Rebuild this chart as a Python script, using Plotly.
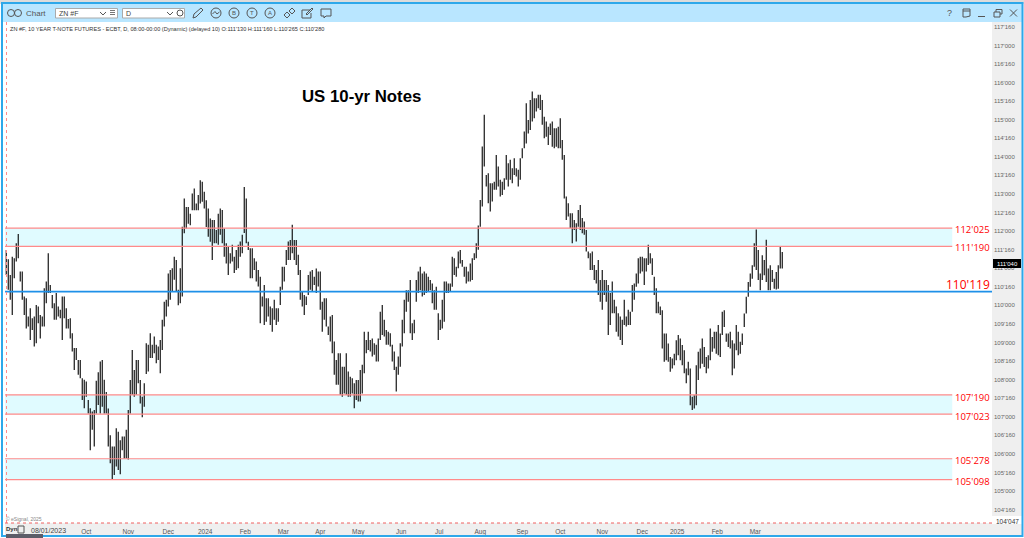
import numpy as np
import plotly.graph_objects as go

W, H = 1024, 538

# daily highs / lows, one bar every 2 px
highs = [
    111.63, 111.49, 111.24, 110.82, 111.31, 111.27, 111.67, 111.92, 110.91, 110.91,
    110.24, 110.19, 109.70, 109.92, 109.65, 109.70, 110.01, 109.97, 109.74, 109.70,
    110.46, 110.64, 111.40, 110.55, 110.28, 110.06, 110.33, 109.97, 109.88, 110.24,
    110.24, 109.92, 109.63, 109.65, 109.25, 108.85, 108.85, 108.53, 108.53, 108.04,
    108.00, 107.95, 107.45, 107.23, 107.14, 107.18, 107.97, 108.20, 108.49, 108.53,
    108.00, 107.67, 107.22, 106.50, 106.20, 106.20, 106.69, 106.60, 106.37, 106.47,
    106.47, 106.65, 107.18, 107.99, 108.80, 108.26, 108.53, 108.53, 107.99, 107.54,
    107.90, 108.98, 108.94, 109.25, 108.94, 109.16, 108.94, 108.89, 109.07, 109.61,
    110.10, 110.15, 110.86, 110.95, 111.00, 111.31, 111.22, 110.42, 111.00, 112.12,
    112.88, 112.65, 112.65, 112.47, 113.01, 113.15, 112.74, 112.97, 113.37, 113.33,
    113.06, 112.83, 112.61, 112.34, 112.30, 112.30, 112.03, 112.47, 112.61, 112.57,
    112.07, 111.67, 111.58, 111.40, 111.63, 111.31, 111.49, 111.63, 111.72, 111.90,
    113.19, 112.88, 111.71, 111.54, 111.54, 111.27, 111.18, 110.95, 110.77, 110.24,
    110.55, 110.19, 110.19, 109.97, 109.92, 110.15, 109.92, 109.92, 110.50, 111.04,
    111.04, 111.49, 111.72, 111.76, 112.17, 111.76, 111.76, 111.36, 110.95, 110.37,
    110.28, 110.24, 110.82, 110.91, 110.95, 110.77, 110.99, 110.91, 110.91, 110.10,
    110.19, 110.19, 109.43, 109.70, 109.74, 109.03, 108.53, 108.71, 108.71, 108.35,
    108.35, 108.71, 108.22, 108.08, 108.04, 107.90, 107.99, 107.99, 108.26, 108.40,
    109.29, 109.07, 109.29, 109.07, 109.11, 108.98, 108.94, 109.11, 109.83, 110.01,
    109.61, 109.34, 109.29, 109.25, 108.94, 108.76, 108.35, 108.62, 108.98, 109.61,
    110.15, 110.41, 110.41, 110.68, 109.52, 109.61, 110.68, 110.91, 111.04, 110.86,
    110.91, 110.86, 110.77, 110.68, 110.59, 110.41, 110.50, 109.79, 109.61, 110.15,
    110.64, 110.64, 110.59, 110.59, 111.31, 111.27, 111.04, 111.45, 111.49, 111.22,
    111.04, 111.04, 110.91, 111.13, 111.27, 111.40, 111.67, 112.15, 112.84, 114.28,
    115.13, 113.51, 113.56, 113.29, 113.29, 113.33, 114.05, 113.74, 113.38, 113.33,
    113.42, 114.05, 113.83, 113.92, 113.69, 113.96, 113.69, 113.65, 113.96, 114.23,
    114.68, 115.44, 114.99, 115.53, 115.76, 115.58, 115.58, 115.67, 115.67, 115.53,
    115.08, 114.95, 114.81, 114.90, 114.95, 114.77, 114.77, 114.81, 115.04, 114.45,
    114.05, 112.93, 112.75, 112.48, 112.48, 112.30, 112.21, 112.57, 112.70, 112.35,
    112.26, 112.03, 111.45, 111.40, 111.45, 111.09, 110.95, 111.22, 110.68, 110.95,
    110.68, 110.68, 110.55, 110.33, 110.64, 110.15, 109.97, 109.79, 109.70, 109.61,
    110.15, 109.70, 109.88, 109.83, 110.55, 110.59, 110.86, 111.27, 111.31, 111.31,
    111.27, 111.27, 111.63, 111.40, 111.27, 110.77, 110.46, 110.10, 109.97, 109.87,
    109.24, 109.24, 108.97, 108.61, 108.57, 108.70, 109.06, 109.20, 109.11, 108.93,
    108.79, 108.30, 108.48, 108.30, 107.54, 107.58, 108.39, 108.75, 108.84, 109.11,
    108.88, 108.61, 108.66, 109.38, 109.15, 109.29, 109.29, 109.47, 109.24, 109.83,
    109.87, 109.24, 109.24, 109.29, 109.06, 108.97, 109.47, 109.29, 109.02, 109.24,
    109.78, 110.23, 110.63, 110.86, 111.08, 111.67, 112.04, 111.49, 110.86, 111.35,
    111.22, 111.77, 110.99, 111.08, 110.95, 110.72, 110.90, 111.08, 111.58, 111.44,
]
lows = [
    111.04, 110.82, 110.42, 110.15, 109.74, 110.73, 111.18, 111.27, 110.64, 110.15,
    109.74, 109.38, 109.43, 109.07, 109.34, 108.89, 108.98, 109.52, 109.11, 109.43,
    109.43, 110.06, 110.33, 110.33, 109.92, 109.61, 109.61, 109.70, 109.65, 109.07,
    109.65, 109.38, 109.38, 109.11, 108.76, 108.26, 108.53, 108.13, 108.04, 107.45,
    107.23, 107.54, 107.09, 106.10, 106.65, 106.20, 107.09, 107.32, 107.09, 107.27,
    107.09, 107.09, 106.20, 105.75, 105.31, 105.43, 105.66, 105.57, 105.45, 106.10,
    105.88, 105.88, 105.85, 107.09, 107.59, 107.54, 107.59, 107.90, 107.36, 106.99,
    107.27, 108.15, 108.22, 108.58, 108.58, 108.71, 108.44, 108.53, 108.17, 108.80,
    109.43, 109.70, 109.97, 110.15, 110.37, 110.69, 110.37, 110.00, 110.06, 110.24,
    111.94, 112.07, 112.20, 112.16, 112.56, 112.56, 112.56, 112.56, 112.74, 112.79,
    112.61, 112.11, 111.85, 111.71, 111.22, 111.67, 111.67, 111.63, 111.90, 111.67,
    111.31, 111.13, 110.82, 111.13, 111.18, 110.87, 110.95, 111.00, 111.31, 111.40,
    111.95, 111.67, 111.49, 110.73, 110.73, 110.95, 110.64, 110.51, 109.52, 109.97,
    109.47, 109.56, 109.70, 109.47, 109.29, 109.61, 109.47, 109.56, 110.01, 110.42,
    110.64, 111.09, 111.22, 111.22, 111.40, 111.22, 111.09, 110.82, 110.15, 109.97,
    109.74, 110.01, 110.28, 110.42, 110.37, 110.55, 110.33, 110.51, 109.88, 109.29,
    109.61, 109.43, 109.20, 109.03, 108.71, 108.13, 107.86, 107.86, 107.59, 107.54,
    107.63, 107.59, 107.54, 107.54, 107.63, 107.23, 107.45, 107.41, 107.41, 107.63,
    108.17, 108.71, 108.80, 108.76, 108.62, 108.67, 108.49, 108.49, 109.07, 109.20,
    109.16, 108.94, 108.94, 108.89, 108.49, 108.26, 107.68, 108.13, 108.35, 108.89,
    109.25, 109.83, 110.10, 109.25, 109.07, 109.25, 110.10, 110.33, 110.41, 110.24,
    110.28, 110.33, 110.37, 110.41, 110.06, 109.88, 109.88, 109.07, 109.34, 109.38,
    109.56, 110.33, 110.33, 110.37, 110.50, 110.82, 110.77, 111.00, 111.13, 111.04,
    110.77, 110.59, 110.64, 110.64, 110.68, 111.22, 111.27, 111.50, 112.12, 112.66,
    113.74, 113.20, 112.75, 112.53, 112.80, 113.11, 113.11, 113.20, 112.93, 112.97,
    113.11, 113.38, 113.20, 113.38, 113.29, 113.51, 113.47, 113.20, 113.38, 113.96,
    114.23, 114.36, 114.63, 114.72, 114.95, 115.04, 115.22, 115.31, 115.26, 114.86,
    114.50, 114.54, 114.32, 114.59, 114.27, 114.23, 114.27, 114.23, 114.23, 113.92,
    112.88, 112.30, 112.39, 112.08, 111.67, 112.03, 111.72, 112.12, 112.03, 111.94,
    111.90, 111.45, 111.27, 110.95, 110.95, 110.68, 110.59, 110.28, 110.10, 109.88,
    110.28, 110.10, 109.20, 109.47, 109.79, 109.79, 109.29, 109.16, 109.07, 108.93,
    109.47, 109.43, 109.47, 109.47, 109.83, 110.15, 110.50, 110.59, 110.86, 110.91,
    110.55, 110.91, 111.09, 111.13, 110.82, 110.28, 109.79, 109.79, 109.74, 108.84,
    108.48, 108.52, 108.48, 108.21, 108.30, 108.39, 108.52, 108.66, 108.52, 108.39,
    108.17, 107.90, 108.12, 107.31, 107.18, 107.22, 107.31, 107.99, 108.30, 108.43,
    108.34, 108.17, 108.30, 108.52, 108.75, 108.84, 108.70, 108.66, 108.61, 109.20,
    109.42, 109.02, 108.88, 108.84, 108.12, 108.30, 108.79, 108.66, 108.70, 108.93,
    109.42, 109.78, 110.23, 110.50, 110.72, 111.04, 110.95, 110.68, 110.41, 110.68,
    110.81, 110.63, 110.41, 110.41, 110.63, 110.45, 110.43, 110.45, 110.99, 110.99,
]

# support / resistance levels and their labels
zone_low = [111.59, 107.07, 105.31]
zone_high = [112.08, 107.59, 105.87]
level_values = [112.08, 111.59, 107.59, 107.07, 105.87, 105.31]
level_labels = ["112'025", "111'190", "107'190", "107'023", "105'278", "105'098"]
mid_level = 110.37
mid_label = "110'119"
last_price = 111.125
last_label = "111'040"

# axis ticks
price_ticks = [117.5 - 0.5 * i for i in range(27)]
price_labels = ["117'160", "117'000", "116'160", "116'000", "115'160", "115'000", "114'160",
                "114'000", "113'160", "113'000", "112'160", "112'000", "111'160", "111'000",
                "110'160", "110'000", "109'160", "109'000", "108'160", "108'000", "107'160",
                "107'000", "106'160", "106'000", "105'160", "105'000", "104'160"]
month_ticks = [41, 62, 82, 100.5, 120.5, 139.5, 158, 177, 198.5, 217.5, 238, 259, 278, 299, 319, 336.5, 356.5, 375.5]
month_labels = ["Oct", "Nov", "Dec", "2024", "Feb", "Mar", "Apr", "May", "Jun", "Jul", "Aug", "Sep",
                "Oct", "Nov", "Dec", "2025", "Feb", "Mar"]

ARIAL = "Liberation Sans"
PANE_L, PANE_R, PANE_T, PANE_B = 5, 992, 22, 523


def px(x):
    return x / W


def py(y):
    return 1 - y / H


def paper_rect(x0, y0, x1, y1, fill=None, line=None, lw=1, layer="below"):
    return dict(type="rect", xref="paper", yref="paper", x0=px(x0), x1=px(x1), y0=py(y0), y1=py(y1),
                fillcolor=fill, line=dict(color=line, width=lw if line else 0), layer=layer)


def paper_line(x0, y0, x1, y1, color, lw=1, dash="solid"):
    return dict(type="line", xref="paper", yref="paper", x0=px(x0), x1=px(x1), y0=py(y0), y1=py(y1),
                line=dict(color=color, width=lw, dash=dash), layer="above")


def paper_circle(cx, cy, r, color="#555555"):
    return dict(type="circle", xref="paper", yref="paper", x0=px(cx - r), x1=px(cx + r), y0=py(cy + r), y1=py(cy - r),
                line=dict(color=color, width=1), layer="above")


def paper_path(points, color="#555555", closed=False):
    d = "M " + " L ".join(f"{px(x):.5f},{py(y):.5f}" for x, y in points)
    if closed:
        d += " Z"
    return dict(type="path", xref="paper", yref="paper", path=d, line=dict(color=color, width=1), layer="above")


def label(x, y, text, size=7, color="#333333", anchor="left", family=ARIAL, bold=False):
    return dict(xref="paper", yref="paper", x=px(x), y=py(y), text=f"<b>{text}</b>" if bold else text,
                showarrow=False, xanchor=anchor, yanchor="middle", borderpad=0,
                font=dict(size=size, color=color, family=family))


# one high-low stroke per bar, broken by None
bar_x, bar_y = [], []
for i, (hi, lo) in enumerate(zip(highs, lows, strict=True)):
    bar_x += [i, i, None]
    bar_y += [lo, hi, None]

fig = go.Figure()
fig.add_trace(go.Scatter(x=bar_x, y=bar_y, mode="lines", line=dict(color="#000000", width=1.1),
                         hoverinfo="skip", showlegend=False))

shapes = []

# window frame, toolbar, axis strips
shapes.append(paper_rect(0, 0, W, 4, fill="#DCDCDC"))
shapes.append(paper_rect(3, 4, 1023, 22, fill="#B9E6FF"))
shapes.append(paper_rect(PANE_R, PANE_T, 1022, 535, fill="#EFEFEF"))
shapes.append(paper_rect(5, PANE_B, 1022, 535, fill="#EFEFEF"))
shapes.append(paper_rect(PANE_R, 516, 1022, 524, fill="#FFFFFF"))
shapes.append(paper_rect(2, 3, 1022.5, 536, line="#2EA8EA", lw=2, layer="above"))
shapes.append(paper_rect(6, 534, 43, 538, fill="#5C5C68", layer="above"))

# zones and levels
for lo, hi in zip(zone_low, zone_high):
    shapes.append(dict(type="rect", xref="x", yref="y", x0=0.4, x1=474, y0=lo, y1=hi,
                       fillcolor="#E0FBFF", line=dict(width=0), layer="below"))
for v in level_values:
    shapes.append(dict(type="line", xref="x", yref="y", x0=0.4, x1=474, y0=v, y1=v,
                       line=dict(color="#FF8A8A", width=1.2), layer="above"))
shapes.append(dict(type="line", xref="x", yref="y", x0=0.4, x1=494, y0=mid_level, y1=mid_level,
                   line=dict(color="#1E90E8", width=1.6), layer="above"))

# cursor lines
shapes.append(paper_line(6.5, PANE_T, 6.5, PANE_B, "#FF8A8A", 1, "dot"))
shapes.append(paper_line(5, 523, 992, 523, "#F06060", 1, "dot"))

# price tag
shapes.append(paper_rect(993, 259, 1021, 268, fill="#000000", layer="above"))

# toolbar boxes and icons
shapes.append(paper_rect(55.5, 8.5, 117.5, 18, fill="#FFFFFF", line="#AAAAAA"))
shapes.append(paper_rect(122.5, 8.5, 184.5, 18, fill="#FFFFFF", line="#AAAAAA"))
shapes.append(paper_circle(11, 13, 3.5))
shapes.append(paper_circle(18, 13, 3.5))
shapes.append(paper_path([(100, 12), (103, 15), (106, 12)]))
shapes.append(paper_path([(167, 12), (170, 15), (173, 12)]))
for y in (10.5, 12.5, 14.5):
    shapes.append(paper_line(110, y, 115, y, "#777777"))
shapes.append(paper_circle(180, 13, 3))
shapes.append(paper_path([(193, 18), (194, 14), (201, 8), (203, 10), (196, 17)], closed=True))
for cx in (216, 234, 252, 270):
    shapes.append(paper_circle(cx, 13, 5))
shapes.append(paper_path([(212.5, 14), (215, 11.5), (217, 14), (219.5, 12)]))
shapes.append(paper_path([(284, 15), (287, 12), (290, 15), (287, 18)], closed=True))
shapes.append(paper_path([(289, 11), (292, 8), (295, 11), (292, 14)], closed=True))
shapes.append(paper_path([(310, 10), (302, 10), (302, 18), (311, 18), (311, 13)]))
shapes.append(paper_path([(306, 14), (312, 8), (313, 9), (307, 15)], closed=True))
shapes.append(paper_path([(321, 9), (331, 9), (331, 16), (326, 16), (324, 18), (324, 16), (321, 16)], closed=True))
shapes.append(paper_path([(963, 9), (970, 9), (970, 16), (966, 17), (963, 17)], closed=True))
shapes.append(paper_line(963, 11, 970, 11, "#555555"))
shapes.append(paper_line(978, 16.5, 985, 16.5, "#555555"))
shapes.append(paper_rect(994, 12, 1000, 17, line="#555555", layer="above"))
shapes.append(paper_path([(996, 12), (996, 9.5), (1002, 9.5), (1002, 14), (1000, 14)]))
shapes.append(paper_line(1010, 9.5, 1017, 16.5, "#555555"))
shapes.append(paper_line(1017, 9.5, 1010, 16.5, "#555555"))
shapes.append(paper_rect(18, 526, 24, 533, line="#555555", layer="above"))

notes = [
    label(25, 13, "Chart", 8, "#555555"),
    label(58, 13, "ZN #F", 7, "#444444"),
    label(125, 13, "D", 7, "#444444"),
    label(234, 13, "B", 6, "#555555", "center"),
    label(252, 13, "T", 6, "#555555", "center"),
    label(270, 13, "A", 6, "#555555", "center"),
    label(949, 13, "?", 9, "#555555", "center"),
    label(9, 29, "ZN #F, 10 YEAR T-NOTE FUTURES - ECBT, D, 08:00-00:00 (Dynamic) (delayed 10) "
                 "O:111'130 H:111'160 L:110'265 C:110'280", 5.6, "#333333"),
    label(301, 96, "US 10-yr Notes", 16.8, "#000000", bold=True),
    label(5, 519, "© eSignal, 2025", 5, "#888888"),
    label(4.5, 529, "Dyn", 6, "#333333", bold=True),
    label(30, 530, "08/01/2023", 7, "#444444"),
    label(1007, 521, "104'047", 6.5, "#333333", "center"),
    label(1007, 263.5, last_label, 6, "#FFFFFF", "center"),
]
level_y = [229, 247, 397, 416, 460.5, 481]
for text, y in zip(level_labels, level_y):
    notes.append(label(990.5, y, text, 9.5, "#FF0000", "right", "Open Sans"))
notes.append(label(990.5, 284, mid_label, 12, "#FF0000", "right", "Open Sans"))

fig.update_layout(
    width=W, height=H, autosize=False,
    margin=dict(l=0, r=0, t=0, b=0),
    paper_bgcolor="#FFFFFF", plot_bgcolor="#FFFFFF",
    shapes=shapes, annotations=notes, showlegend=False, hovermode=False,
    xaxis=dict(domain=[px(PANE_L), px(PANE_R)], range=[0.38, 493.88], tickmode="array",
               tickvals=month_ticks, ticktext=month_labels, showgrid=False, zeroline=False,
               ticks="", showline=False, ticklabelstandoff=3,
               tickfont=dict(size=6.5, color="#555555", family=ARIAL)),
    yaxis=dict(domain=[py(PANE_B), py(PANE_T)], range=[104.14, 117.63], side="right", tickmode="array",
               tickvals=price_ticks, ticktext=price_labels, showgrid=False, zeroline=False,
               ticks="", showline=False, ticklabelstandoff=1,
               tickfont=dict(size=6, color="#666666", family=ARIAL)),
)

fig.write_html("out.html", config=dict(displayModeBar=False),
               post_script="document.body.style.margin='0';document.body.style.overflow='hidden';")
